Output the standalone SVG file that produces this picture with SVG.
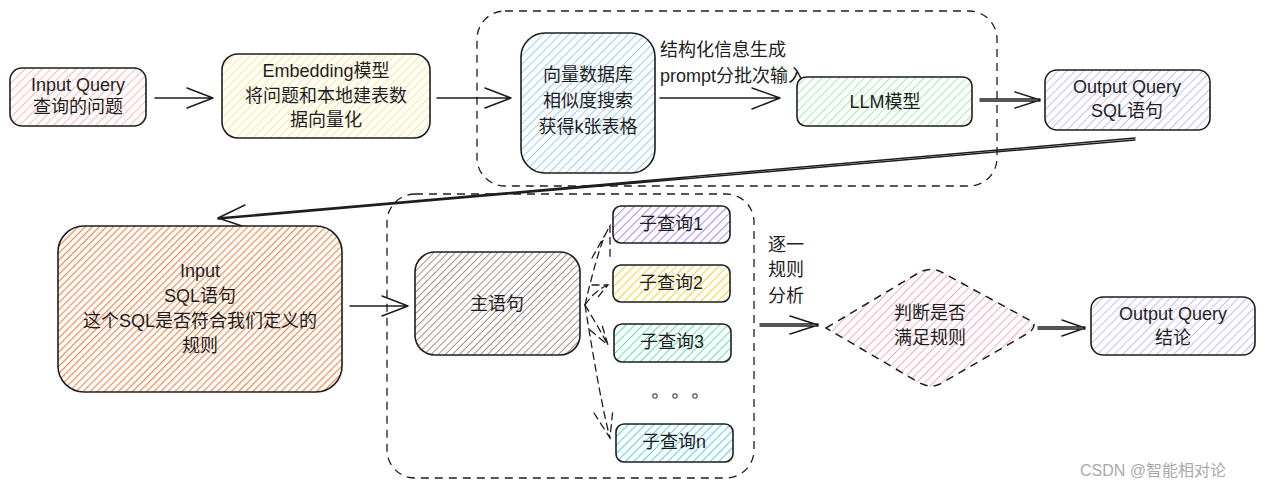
<svg xmlns="http://www.w3.org/2000/svg" width="1266" height="489" viewBox="0 0 1266 489">
<style>
.t{font-family:"Liberation Sans","Noto Sans CJK SC",sans-serif;font-size:18px;fill:#1e1e1e;text-anchor:middle}
.l{font-family:"Liberation Sans","Noto Sans CJK SC",sans-serif;font-size:18px;fill:#1e1e1e}
.box{stroke:#1e1e1e;stroke-width:1.6}
.grp{fill:none;stroke:#1e1e1e;stroke-width:1.3;stroke-dasharray:8 6}
.c{fill:none;stroke:#1e1e1e;stroke-width:1.5;stroke-linecap:round;stroke-linejoin:round}
.cd{fill:none;stroke:#1e1e1e;stroke-width:1.3;stroke-dasharray:7 5;stroke-linecap:round}
.dot{fill:none;stroke:#555;stroke-width:1.2}
</style>
<defs>
<pattern id="hPink" width="6" height="6" patternUnits="userSpaceOnUse" patternTransform="rotate(45)"><rect width="6" height="6" fill="#fff"/><line x1="0" y1="0" x2="0" y2="6" stroke="#ffb8b8" stroke-width="2"/></pattern>
<pattern id="hYellow" width="6" height="6" patternUnits="userSpaceOnUse" patternTransform="rotate(45)"><rect width="6" height="6" fill="#fff"/><line x1="0" y1="0" x2="0" y2="6" stroke="#ffe780" stroke-width="2"/></pattern>
<pattern id="hBlue" width="6" height="6" patternUnits="userSpaceOnUse" patternTransform="rotate(45)"><rect width="6" height="6" fill="#fff"/><line x1="0" y1="0" x2="0" y2="6" stroke="#99cff7" stroke-width="2"/></pattern>
<pattern id="hGreen" width="6" height="6" patternUnits="userSpaceOnUse" patternTransform="rotate(45)"><rect width="6" height="6" fill="#fff"/><line x1="0" y1="0" x2="0" y2="6" stroke="#a3ecae" stroke-width="2"/></pattern>
<pattern id="hPurple" width="6" height="6" patternUnits="userSpaceOnUse" patternTransform="rotate(45)"><rect width="6" height="6" fill="#fff"/><line x1="0" y1="0" x2="0" y2="6" stroke="#cbbcfc" stroke-width="2"/></pattern>
<pattern id="hPurple2" width="6" height="6" patternUnits="userSpaceOnUse" patternTransform="rotate(45)"><rect width="6" height="6" fill="#fff"/><line x1="0" y1="0" x2="0" y2="6" stroke="#ab8ffc" stroke-width="2.2"/></pattern>
<pattern id="hOrange" width="5" height="5" patternUnits="userSpaceOnUse" patternTransform="rotate(45)"><rect width="5" height="5" fill="#fff"/><line x1="0" y1="0" x2="0" y2="5" stroke="#f08c4f" stroke-width="2.4"/></pattern>
<pattern id="hBrown" width="5" height="5" patternUnits="userSpaceOnUse" patternTransform="rotate(45)"><rect width="5" height="5" fill="#fff"/><line x1="0" y1="0" x2="0" y2="5" stroke="#a39089" stroke-width="2"/></pattern>
<pattern id="hYellow2" width="6" height="6" patternUnits="userSpaceOnUse" patternTransform="rotate(45)"><rect width="6" height="6" fill="#fff"/><line x1="0" y1="0" x2="0" y2="6" stroke="#ffd43b" stroke-width="2.2"/></pattern>
<pattern id="hTeal" width="6" height="6" patternUnits="userSpaceOnUse" patternTransform="rotate(45)"><rect width="6" height="6" fill="#fff"/><line x1="0" y1="0" x2="0" y2="6" stroke="#63e6be" stroke-width="2.2"/></pattern>
<pattern id="hCyan" width="6" height="6" patternUnits="userSpaceOnUse" patternTransform="rotate(45)"><rect width="6" height="6" fill="#fff"/><line x1="0" y1="0" x2="0" y2="6" stroke="#5fd4e4" stroke-width="2.2"/></pattern>
<pattern id="hRose" width="6" height="6" patternUnits="userSpaceOnUse" patternTransform="rotate(45)"><rect width="6" height="6" fill="#fff"/><line x1="0" y1="0" x2="0" y2="6" stroke="#f9a8c4" stroke-width="2"/></pattern>
</defs>
<rect width="1266" height="489" fill="#fff"/>

<g id="groups">
<rect class="grp" x="477" y="11" width="520" height="175" rx="28"/>
<rect class="grp" x="387" y="194" width="367" height="284" rx="28"/>
</g>

<g id="connectors">
<path class="c" d="M155 98 L213 98 M187 88 L213 98 L187 108"/>
<path class="c" d="M437 98 L511 98 M485 88 L511 98 L485 108"/>
<path class="c" d="M660 98 L780 98 M752 88 L780 98 L752 109"/>
<path class="c" d="M980 99 L1040 99 M980 101 L1040 101 M1015 92 L1040 100 L1015 108"/>
<path class="c" d="M1135 138 L218 218 M1135 140 L218 219 M245 205 L218 218 L245 227"/>
<path class="c" d="M350 306 L408 306 M382 296 L408 306 L382 316"/>
<path class="cd" d="M585 305 Q600 240 610 226 M592 258 L610 226 L610 257"/>
<path class="cd" d="M585 305 Q595 290 608 285 M592 285 L608 285 L598 297"/>
<path class="cd" d="M585 305 Q600 330 608 345 M590 330 L608 345 L602 325"/>
<path class="cd" d="M585 305 Q600 400 610 438 M594 413 L610 438 L613 408"/>
<path class="c" d="M760 324 L818 324 M760 326 L818 326 M790 316 L818 325 L790 334"/>
<path class="c" d="M1038 327 L1085 327 M1038 329 L1085 329 M1062 320 L1085 328 L1062 336"/>
</g>

<g id="n1"><rect class="box" x="10" y="68" width="136" height="58" rx="12" fill="url(#hPink)"/>
<text class="t" x="78" y="91">Input Query</text><text class="t" x="78" y="113">查询的问题</text></g>

<g id="n2"><rect class="box" x="222" y="54" width="208" height="84" rx="16" fill="url(#hYellow)"/>
<text class="t" x="326" y="77">Embedding模型</text><text class="t" x="326" y="102">将问题和本地建表数</text><text class="t" x="326" y="126">据向量化</text></g>

<g id="n3"><rect class="box" x="521" y="33" width="134" height="140" rx="24" fill="url(#hBlue)"/>
<text class="t" x="588" y="81">向量数据库</text><text class="t" x="588" y="107">相似度搜索</text><text class="t" x="588" y="133">获得k张表格</text></g>

<g id="lbl1"><text class="l" x="660" y="56">结构化信息生成</text><text class="l" x="660" y="82">prompt分批次输入</text></g>

<g id="n4"><rect class="box" x="797" y="77" width="175" height="49" rx="9" fill="url(#hGreen)"/>
<text class="t" x="885" y="108">LLM模型</text></g>

<g id="n5"><rect class="box" x="1045" y="70" width="165" height="60" rx="12" fill="url(#hPurple)"/>
<text class="t" x="1127" y="93">Output Query</text><text class="t" x="1127" y="117">SQL语句</text></g>

<g id="n6"><rect class="box" x="58" y="226" width="284" height="166" rx="26" fill="url(#hOrange)"/>
<text class="t" x="200" y="277">Input</text><text class="t" x="200" y="302">SQL语句</text><text class="t" x="200" y="327">这个SQL是否符合我们定义的</text><text class="t" x="200" y="352">规则</text></g>

<g id="n7"><rect class="box" x="415" y="252" width="165" height="103" rx="20" fill="url(#hBrown)"/>
<text class="t" x="497" y="310">主语句</text></g>

<g id="n8"><rect class="box" x="613" y="206" width="117" height="37" rx="8" fill="url(#hPurple2)"/>
<text class="t" x="671" y="230">子查询1</text></g>
<g id="n9"><rect class="box" x="613" y="265" width="117" height="37" rx="8" fill="url(#hYellow2)"/>
<text class="t" x="671" y="289">子查询2</text></g>
<g id="n10"><rect class="box" x="614" y="324" width="117" height="38" rx="8" fill="url(#hTeal)"/>
<text class="t" x="672" y="348">子查询3</text></g>
<g id="dots"><circle class="dot" cx="655" cy="396" r="2.2"/><circle class="dot" cx="675" cy="396" r="2.2"/><circle class="dot" cx="695" cy="396" r="2.2"/></g>
<g id="n11"><rect class="box" x="616" y="424" width="117" height="38" rx="8" fill="url(#hCyan)"/>
<text class="t" x="674" y="448">子查询n</text></g>

<g id="lbl2"><text class="l" x="768" y="251">逐一</text><text class="l" x="768" y="276">规则</text><text class="l" x="768" y="302">分析</text></g>

<g id="n12"><path d="M826 328 L920 272 Q933 266 945 274 L1033 322 Q1036 326 1030 332 L940 384 Q930 389 918 382 Z" fill="url(#hRose)" stroke="#1e1e1e" stroke-width="1.5" stroke-dasharray="8 6"/>
<text class="t" x="930" y="319">判断是否</text><text class="t" x="930" y="344">满足规则</text></g>

<g id="n13"><rect class="box" x="1091" y="297" width="164" height="58" rx="12" fill="url(#hPurple)"/>
<text class="t" x="1173" y="320">Output Query</text><text class="t" x="1173" y="344">结论</text></g>

<text x="1080" y="476" style="font-family:'Liberation Sans','Noto Sans CJK SC',sans-serif;font-size:16px;fill:#aaa">CSDN @智能相对论</text>
</svg>
